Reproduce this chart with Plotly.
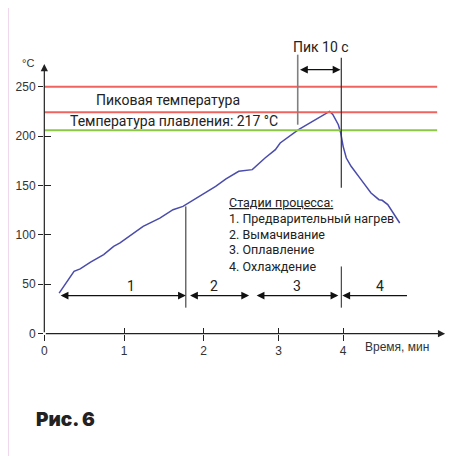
import plotly.graph_objects as go

# ---- data ----
curve_x = [0.186, 0.373, 0.45, 0.497, 0.58, 0.745, 0.87, 0.95, 1.24, 1.45, 1.615, 1.74, 1.99, 2.15, 2.28,
           2.44, 2.61, 2.77, 2.9, 2.96, 3.19, 3.40, 3.54, 3.58, 3.62, 3.69, 3.72, 3.75, 3.79, 3.85,
           3.975, 4.10, 4.20, 4.24, 4.31, 4.39, 4.46]
curve_t = [41, 63, 65.5, 68, 72.5, 80, 88.4, 91.8, 108.6, 117, 125.5, 128.8, 140.7, 149, 156.6,
           164.3, 166, 177.8, 186.2, 193, 206.5, 216.6, 223.4, 225, 222, 211.5, 203, 189.6, 177.8, 169.4,
           155.9, 142.4, 135.6, 135, 130.6, 120.4, 112]

x_tick_pos = [0, 1, 2, 2.94, 3.75]
x_tick_labels = ["0", "1", "2", "3", "4"]
y_tick_vals = [0, 50, 100, 150, 200, 250]

red_levels = [250, 224]
green_level = 206
level_end = 4.93

stage_labels = ["1", "2", "3", "4"]
stage_label_x = [1.093, 2.124, 3.168, 4.21]
stage_starts = [0.186, 1.81, 2.646, 3.74]
stage_ends = [1.776, 2.57, 3.69, 4.57]
stage_y = 38.5
stage_label_y = 48

peak_left_x, peak_right_x = 3.18, 3.727
stage_line1_x = 1.776

legend_title = "Стадии процесса:"
legend_lines = ["1. Предварительный нагрев", "2. Вымачивание", "3. Оплавление", "4. Охлаждение"]
legend_y = [116.4, 100.2, 85, 68.3]

XMIN, XMAX, YMIN, YMAX = -0.004, 5.066, -0.35, 297.25
FONT = "Roboto"

fig = go.Figure()
fig.add_trace(go.Scatter(x=curve_x, y=curve_t, mode="lines",
                         line=dict(color="rgb(74,76,172)", width=1.5), hoverinfo="skip"))
# invisible trace for the overlay axes (inner ticks)
fig.add_trace(go.Scatter(x=[1], y=[1], xaxis="x2", yaxis="y2", mode="markers",
                         marker=dict(opacity=0), hoverinfo="skip"))

shapes = []
for lv in red_levels:
    shapes.append(dict(type="line", xref="x", yref="y", x0=0, x1=level_end, y0=lv, y1=lv,
                       line=dict(color="rgb(240,100,95)", width=2)))
shapes.append(dict(type="line", xref="x", yref="y", x0=0, x1=level_end, y0=green_level, y1=green_level,
                   line=dict(color="rgb(140,200,70)", width=2)))
# peak lines
shapes.append(dict(type="line", xref="x", yref="y", x0=peak_left_x, x1=peak_left_x, y0=211.5, y1=282.4,
                   line=dict(color="#808080", width=1.6)))
shapes.append(dict(type="line", xref="x", yref="y", x0=peak_right_x, x1=peak_right_x, y0=147.8, y1=279.4,
                   line=dict(color="#333333", width=1.2)))
# stage vertical lines
shapes.append(dict(type="line", xref="x", yref="y", x0=stage_line1_x, x1=stage_line1_x, y0=26.3, y1=128.8,
                   line=dict(color="#222222", width=1)))
shapes.append(dict(type="line", xref="x", yref="y", x0=peak_right_x, x1=peak_right_x, y0=26.3, y1=68,
                   line=dict(color="#222222", width=1)))
# pink frame
shapes.append(dict(type="line", xref="paper", yref="paper", x0=-0.0907, x1=1.05, y0=1.1224, y1=1.1224,
                   line=dict(color="rgb(214,143,207)", width=2)))
shapes.append(dict(type="line", xref="paper", yref="paper", x0=-0.0907, x1=-0.0907, y0=-0.45, y1=1.1224,
                   line=dict(color="rgb(214,143,207)", width=2)))

ann = []
# axis arrows
ann.append(dict(x=0, y=273, ax=0, ay=0, xref="x", yref="y", axref="x", ayref="y", text="",
                showarrow=True, arrowhead=2, arrowsize=1.2, arrowwidth=1.2, arrowcolor="#222"))
ann.append(dict(x=5.03, y=0, ax=0, ay=0, xref="x", yref="y", axref="x", ayref="y", text="",
                showarrow=True, arrowhead=2, arrowsize=1.2, arrowwidth=1.2, arrowcolor="#222"))
# stage arrows
for i, (s, e) in enumerate(zip(stage_starts, stage_ends)):
    if i < 3:
        ann.append(dict(x=e, y=stage_y, ax=s, ay=stage_y, xref="x", yref="y", axref="x", ayref="y",
                        text="", showarrow=True, arrowhead=2, arrowside="end+start", arrowsize=1.3,
                        arrowwidth=1.2, arrowcolor="#111"))
    else:
        ann.append(dict(x=s, y=stage_y, ax=e, ay=stage_y, xref="x", yref="y", axref="x", ayref="y",
                        text="", showarrow=True, arrowhead=2, arrowside="end", arrowsize=1.3,
                        arrowwidth=1.2, arrowcolor="#111"))
for lab, lx in zip(stage_labels, stage_label_x):
    ann.append(dict(x=lx, y=stage_label_y, text=lab, showarrow=False, xref="x", yref="y",
                    font=dict(family=FONT, size=14, color="#222")))
# peak arrow
ann.append(dict(x=peak_right_x - 0.01, y=267.2, ax=peak_left_x + 0.01, ay=267.2, xref="x", yref="y",
                axref="x", ayref="y", text="", showarrow=True, arrowhead=2, arrowside="end+start",
                arrowsize=1.3, arrowwidth=1.2, arrowcolor="#111"))
ann.append(dict(x=3.478, y=290.5, text="Пик 10 с", showarrow=False, xref="x", yref="y",
                font=dict(family=FONT, size=14, color="#222")))
ann.append(dict(x=1.553, y=236.8, text="Пиковая температура", showarrow=False, xref="x", yref="y",
                font=dict(family=FONT, size=14, color="#222")))
ann.append(dict(x=1.627, y=215.6, text="Температура плавления: 217 °С", showarrow=False, xref="x", yref="y",
                font=dict(family=FONT, size=14, color="#222")))
ann.append(dict(x=2.298, y=132.6, text="<u>" + legend_title + "</u>", showarrow=False, xref="x", yref="y",
                xanchor="left", font=dict(family=FONT, size=12.5, color="#222")))
for line, ly in zip(legend_lines, legend_y):
    ann.append(dict(x=2.298, y=ly, text=line, showarrow=False, xref="x", yref="y", xanchor="left",
                    font=dict(family=FONT, size=12.5, color="#222")))
ann.append(dict(x=-0.039, y=0.922, text="°C", showarrow=False, xref="paper", yref="paper",
                xanchor="center", yanchor="middle",
                font=dict(family="Liberation Sans", size=11, color="#333")))
ann.append(dict(x=0.789, y=-0.044, text="Время, мин", showarrow=False, xref="paper", yref="paper",
                xanchor="left", yanchor="middle",
                font=dict(family="Liberation Sans", size=12, color="#333")))
ann.append(dict(x=-0.0245, y=-0.2925, text="Рис. 6", showarrow=False, xref="paper", yref="paper",
                xanchor="left", yanchor="middle",
                font=dict(family="Inter", size=19, weight=900, color="#222")))

tickfont = dict(family="Liberation Sans", size=12, color="#333")
fig.update_layout(
    width=448, height=448, autosize=False,
    margin=dict(l=32, r=8, t=32, b=122),
    paper_bgcolor="white", plot_bgcolor="white",
    showlegend=False,
    xaxis=dict(range=[XMIN, XMAX], tickvals=x_tick_pos, ticktext=x_tick_labels, ticks="outside", ticklen=6,
               tickcolor="#222", tickwidth=1.2, showgrid=False, zeroline=False, showline=False,
               tickfont=tickfont),
    yaxis=dict(range=[YMIN, YMAX], tickvals=y_tick_vals, ticks="outside", ticklen=5, tickcolor="#222",
               tickwidth=1.2, showgrid=False, zeroline=False, showline=False, tickfont=tickfont),
    xaxis2=dict(range=[XMIN, XMAX], overlaying="x", side="bottom", tickvals=x_tick_pos[1:], ticks="inside",
                ticklen=6, tickcolor="#222", tickwidth=1.2, showticklabels=False, showgrid=False,
                zeroline=False, showline=False),
    yaxis2=dict(range=[YMIN, YMAX], overlaying="y", side="left", tickvals=y_tick_vals, ticks="inside",
                ticklen=7, tickcolor="#222", tickwidth=1.2, showticklabels=False, showgrid=False,
                zeroline=False, showline=False),
    shapes=shapes, annotations=ann,
)
fig.write_html("out.html")
